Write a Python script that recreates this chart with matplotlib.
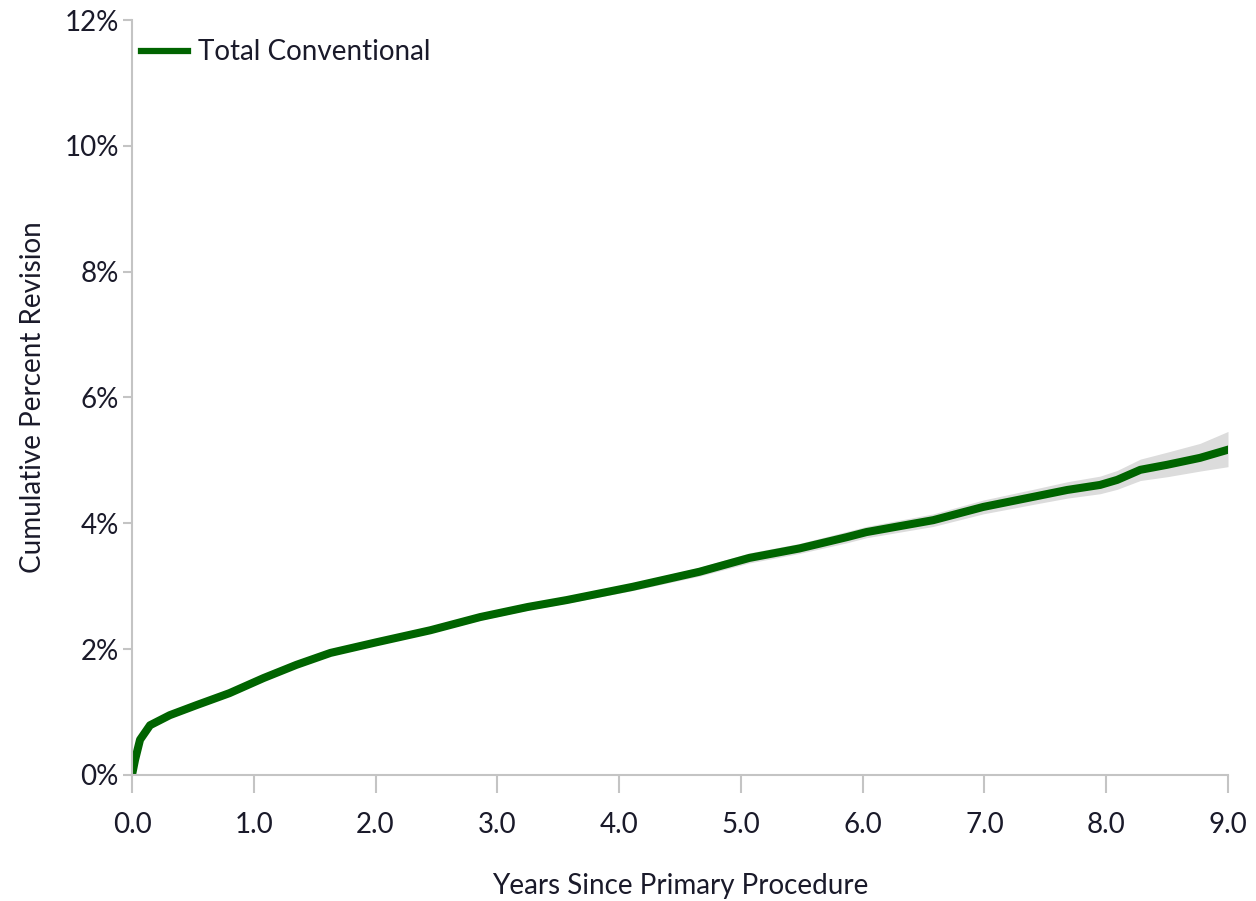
import matplotlib
matplotlib.use("Agg")
import matplotlib.pyplot as plt
from matplotlib.ticker import FuncFormatter

plt.rcParams['font.family'] = ['Lato', 'DejaVu Sans']

# Cumulative percent revision over time (years since primary procedure)
years = [0.0, 0.025, 0.066, 0.148, 0.31, 0.53, 0.80, 1.08, 1.35, 1.63, 2.01,
         2.45, 2.86, 3.25, 3.57, 4.11, 4.66, 5.07, 5.48, 5.87, 6.03, 6.58,
         6.99, 7.40, 7.68, 7.95, 8.09, 8.28, 8.50, 8.77, 9.0]
revision = [0.0, 0.24, 0.56, 0.79, 0.95, 1.11, 1.30, 1.54, 1.75, 1.94, 2.11,
            2.30, 2.51, 2.67, 2.78, 2.99, 3.23, 3.45, 3.60, 3.78, 3.86, 4.05,
            4.26, 4.42, 4.53, 4.61, 4.69, 4.85, 4.93, 5.04, 5.17]
ci_lower = [0.0, 0.22, 0.53, 0.76, 0.92, 1.08, 1.27, 1.51, 1.72, 1.90, 2.07,
            2.26, 2.46, 2.62, 2.73, 2.93, 3.16, 3.37, 3.52, 3.69, 3.77, 3.95,
            4.15, 4.30, 4.40, 4.47, 4.54, 4.68, 4.74, 4.83, 4.90]
ci_upper = [0.0, 0.26, 0.59, 0.82, 0.98, 1.14, 1.33, 1.57, 1.78, 1.98, 2.15,
            2.34, 2.56, 2.72, 2.83, 3.05, 3.30, 3.53, 3.68, 3.87, 3.95, 4.15,
            4.37, 4.54, 4.66, 4.75, 4.84, 5.02, 5.13, 5.27, 5.46]

series_label = "Total Conventional"
x_ticks = [0, 1, 2, 3, 4, 5, 6, 7, 8, 9]
y_ticks = [0, 2, 4, 6, 8, 10, 12]

fig = plt.figure(figsize=(12.56, 9.01), dpi=100)
ax = fig.add_axes([0.1051, 0.1399, 0.8726, 0.8379])

ax.fill_between(years, ci_lower, ci_upper, color="#dcdcdc", linewidth=0, zorder=1)
ax.plot(years, revision, color="#006400", linewidth=5.8, solid_joinstyle="round",
        label=series_label, zorder=2)

ax.set_xlim(0, 9)
ax.set_ylim(0, 12)
ax.set_xticks(x_ticks)
ax.set_yticks(y_ticks)
ax.xaxis.set_major_formatter(FuncFormatter(lambda v, p: f"{v:.1f}"))
ax.yaxis.set_major_formatter(FuncFormatter(lambda v, p: f"{v:.0f}%"))

grey = "#c4c4c4"
text_color = "#1a1a2a"
for side in ("top", "right"):
    ax.spines[side].set_visible(False)
for side in ("left", "bottom"):
    ax.spines[side].set_color(grey)
    ax.spines[side].set_linewidth(1.5)

ax.tick_params(axis="x", direction="out", length=13, width=1.5, color=grey,
               labelsize=20, labelcolor=text_color, pad=14)
ax.tick_params(axis="y", direction="out", length=6.5, width=1.5, color=grey,
               labelsize=20, labelcolor=text_color, pad=3)

ax.set_xlabel("Years Since Primary Procedure", fontsize=20, color=text_color, labelpad=25)
ax.set_ylabel("Cumulative Percent Revision", fontsize=20, color=text_color, labelpad=13)

leg = ax.legend(loc="upper left", frameon=False, fontsize=20, handlelength=1.7,
                handletextpad=0.35, borderaxespad=0.0, borderpad=0.15,
                bbox_to_anchor=(0.004, 0.98))
for t in leg.get_texts():
    t.set_color(text_color)
for h in leg.get_lines():
    h.set_linewidth(4.5)

fig.savefig("out.png", dpi=100, facecolor="white")
